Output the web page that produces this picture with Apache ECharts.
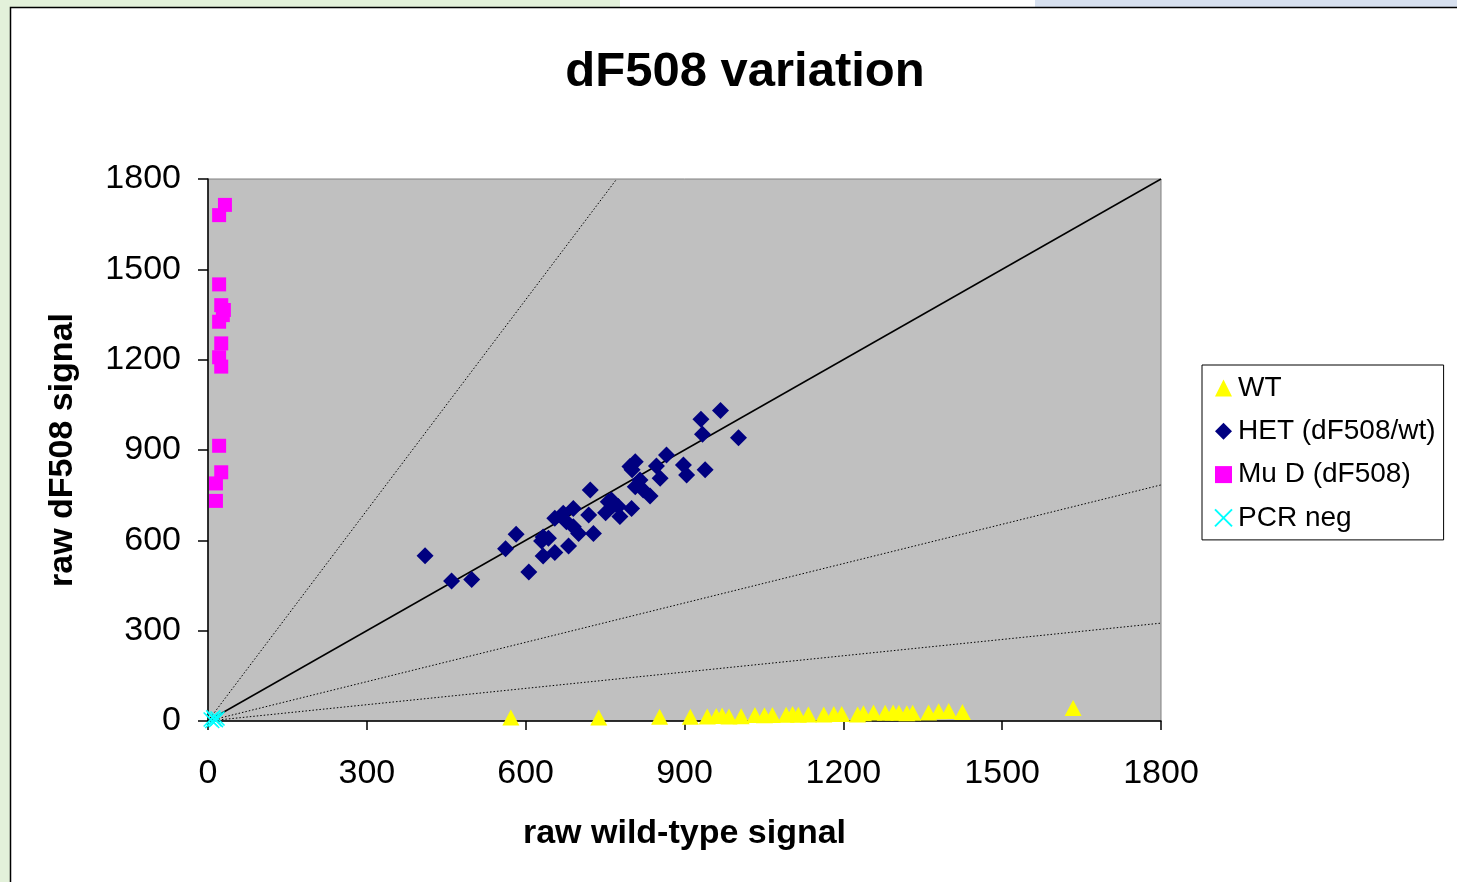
<!DOCTYPE html>
<html><head><meta charset="utf-8">
<script src="https://cdn.jsdelivr.net/npm/echarts@6/dist/echarts.min.js"></script>
<style>html,body{margin:0;padding:0;background:#fff}#c{width:1457px;height:882px}</style>
</head><body><div id="c"></div>
<script>
const xTicks = [0, 300, 600, 900, 1200, 1500, 1800];
const yTicks = [0, 300, 600, 900, 1200, 1500, 1800];
const wtData = [[572,12],[738,12],[853,14],[911,14],[943,15],[960,17],[971,18],[984,15],[1007,16],[1033,20],[1051,19],[1066,20],[1092,21],[1104,23],[1115,21],[1134,22],[1163,22],[1182,23],[1197,23],[1227,22],[1238,26],[1257,28],[1279,27],[1294,28],[1305,27],[1320,26],[1331,27],[1361,28],[1380,32],[1399,33],[1425,30],[1634,43]];
const hetData = [[410,549],[460,465],[498,470],[562,572],[582,620],[606,495],[630,598],[633,548],[633,611],[643,607],[655,560],[655,673],[671,690],[677,662],[681,581],[690,706],[690,645],[700,623],[719,684],[722,767],[728,623],[751,692],[756,728],[762,734],[766,717],[775,712],[778,679],[797,845],[800,706],[801,834],[807,861],[807,778],[816,800],[822,767],[835,747],[847,847],[854,806],[866,883],[898,850],[904,817],[931,1002],[934,952],[939,834],[968,1031],[1002,941]];
const mudData = [[32,1714],[21,1680],[21,1450],[25,1381],[30,1365],[28,1348],[21,1326],[25,1254],[21,1208],[25,1177],[21,914],[25,826],[15,789],[15,731]];
const pcrData = [[5,5],[10,12],[15,3],[8,0],[18,8],[12,6]];
const unityLine = [[0,0],[1800,1800]];
const ratioLines = [[[0,0],[772,1800]], [[0,0],[1800,784]], [[0,0],[1800,325]]];

const FONT = 'Liberation Sans';
const chart = echarts.init(document.getElementById('c'));
const ratioSeries = ratioLines.map(d => ({
  type: 'line', data: d, symbol: 'none', silent: true, z: 1,
  lineStyle: {color: '#000', width: 1, type: [1.5, 2]}, legendHoverLink: false
}));
chart.setOption({
  animation: false,
  backgroundColor: '#fff',
  graphic: [
    {type: 'rect', z: -10, shape: {x: 0, y: 0, width: 620, height: 7}, style: {fill: '#E3F1DA'}},
    {type: 'rect', z: -10, shape: {x: 1035, y: 0, width: 422, height: 7}, style: {fill: '#D7E0EF'}},
    {type: 'rect', z: -10, shape: {x: 0, y: 0, width: 10, height: 882}, style: {fill: '#E3F1DA'}},
    {type: 'rect', z: -9, shape: {x: 10.5, y: 7.5, width: 1500, height: 1000}, style: {fill: '#fff', stroke: '#000', lineWidth: 1.5}}
  ],
  title: {
    text: 'dF508 variation', left: 740, top: 43, textAlign: 'center',
    textStyle: {fontFamily: FONT, fontSize: 49, fontWeight: 'bold', color: '#000'}
  },
  legend: {
    orient: 'vertical', left: 1202, top: 365, width: 235,
    padding: [8, 8, 7, 12], itemGap: 13.3, itemWidth: 17, itemHeight: 17,
    borderColor: '#000', borderWidth: 1, backgroundColor: '#fff',
    textStyle: {fontFamily: FONT, fontSize: 28, color: '#000', lineHeight: 30, padding: [0, 0, 0, 1]},
    data: ['WT', 'HET (dF508/wt)', 'Mu D (dF508)', 'PCR neg']
  },
  grid: {left: 208, right: 296, top: 179, bottom: 161, show: true, backgroundColor: '#C0C0C0', borderColor: '#808080', borderWidth: 1},
  xAxis: {
    type: 'value', min: xTicks[0], max: xTicks[xTicks.length - 1], interval: 300,
    name: 'raw wild-type signal', nameLocation: 'middle', nameGap: 96,
    nameTextStyle: {fontFamily: FONT, fontSize: 34, fontWeight: 'bold', color: '#000'},
    axisLine: {show: true, lineStyle: {color: '#000', width: 1.5}},
    axisTick: {show: true, inside: false, length: 9, lineStyle: {color: '#000', width: 1.5}},
    axisLabel: {fontFamily: FONT, fontSize: 34, color: '#000', margin: 36, formatter: v => String(v)},
    splitLine: {show: false}
  },
  yAxis: {
    type: 'value', min: yTicks[0], max: yTicks[yTicks.length - 1], interval: 300,
    name: 'raw dF508 signal', nameLocation: 'middle', nameGap: 128,
    nameTextStyle: {fontFamily: FONT, fontSize: 34, fontWeight: 'bold', color: '#000'},
    axisLine: {show: true, lineStyle: {color: '#000', width: 1.5}},
    axisTick: {show: true, inside: false, length: 10, lineStyle: {color: '#000', width: 1.5}},
    axisLabel: {fontFamily: FONT, fontSize: 34, color: '#000', margin: 27, padding: [6, 0, 0, 0], formatter: v => String(v)},
    splitLine: {show: false}
  },
  series: [
    ...ratioSeries,
    {type: 'line', data: unityLine, symbol: 'none', silent: true, z: 1, lineStyle: {color: '#000', width: 1.5}},
    {name: 'WT', type: 'scatter', data: wtData, symbol: 'triangle', symbolSize: [17, 16], z: 3,
     itemStyle: {color: '#FFFF00', opacity: 1}},
    {name: 'HET (dF508/wt)', type: 'scatter', data: hetData, symbol: 'diamond', symbolSize: [17, 17], z: 3,
     itemStyle: {color: '#000080', opacity: 1}},
    {name: 'Mu D (dF508)', type: 'scatter', data: mudData, symbol: 'rect', symbolSize: [14, 14], z: 3,
     itemStyle: {color: '#FF00FF', opacity: 1}},
    {name: 'PCR neg', type: 'scatter', data: pcrData, symbol: 'path://M0,0L10,10M10,0L0,10', symbolSize: [14, 14], z: 4,
     itemStyle: {color: 'rgba(0,0,0,0)', borderColor: '#00FFFF', borderWidth: 1.5, opacity: 1}}
  ]
});
</script></body></html>
